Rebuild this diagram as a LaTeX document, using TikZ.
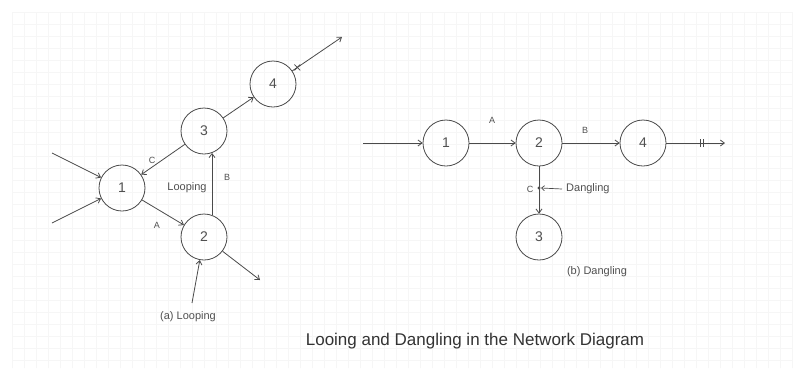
\documentclass[tikz,border=0pt]{standalone}
\usepackage{fontspec}
\setmainfont{Liberation Sans}
\usetikzlibrary{arrows.meta,shapes.misc}
\definecolor{ln}{HTML}{4A4A4A}
\definecolor{tx}{HTML}{505050}
\tikzset{
  x=1pt,y=-1pt,
  vnode/.style={circle,draw=ln,line width=0.8pt,minimum size=46pt,inner sep=0pt,font=\fontsize{14}{14}\selectfont,text=tx},
  conn/.style={draw=ln,line width=0.8pt,-{Straight Barb[length=4pt,width=6pt]}},
  lab/.style={font=\fontsize{9}{9}\selectfont,text=tx,inner sep=0pt},
  captext/.style={font=\fontsize{11}{11}\selectfont,text=tx,inner sep=0pt},
  xmark/.style={cross out,draw=ln,line width=0.8pt,minimum size=5pt,inner sep=0pt},
}
\begin{document}
\begin{tikzpicture}
\useasboundingbox (0,0) rectangle (801,376);
\fill[white] (0,0) rectangle (801,376);
\draw[gray!7,line width=0.4pt,step=12pt] (12,12) grid (792,368);
% ---------- (a) Looping ----------
\node[vnode] (n1) at (122,188) {1};
\node[vnode] (n3) at (204,131) {3};
\node[vnode] (n4) at (273,84) {4};
\node[vnode] (n2) at (204,237) {2};
\coordinate (a1) at (52,153);
\coordinate (a2) at (52,223);
\coordinate (a3) at (192,303);
\coordinate (o2) at (260,280);
\coordinate (o4) at (342,37);
\draw[conn] (a1) -- (n1);
\draw[conn] (a2) -- (n1);
\draw[conn] (n1) -- (n2);
\draw[conn] (n3) -- (n1);
\draw[conn] (n2.70) -- (n3.290);
\draw[conn] (n3) -- (n4);
\draw[conn] (n4) -- node[xmark,pos=0.1] (x4) {} (o4);
\draw[conn] (n2) -- (o2);
\draw[conn] (a3) -- (n2);
\node[lab] (lA) at (157,225) {A};
\node[lab] (lC) at (152,160) {C};
\node[lab] (lB) at (227,177) {B};
\node[captext] (lp) at (187,188) {Looping};
\node[captext] (capa) at (188,317) {(a) Looping};
% ---------- (b) Dangling ----------
\node[vnode] (m1) at (446,143) {1};
\node[vnode] (m2) at (539,143) {2};
\node[vnode] (m4) at (643,143) {4};
\node[vnode] (m3) at (539,237) {3};
\coordinate (b1) at (363,143);
\coordinate (q4) at (725,143);
\draw[conn] (b1) -- (m1);
\draw[conn] (m1) -- (m2);
\draw[conn] (m2) -- (m4);
\draw[conn] (m4) -- (q4);
\coordinate (bar) at (702,143);
\draw[ln,line width=0.8pt] ([xshift=-1.2pt,yshift=-4pt]bar) -- ([xshift=-1.2pt,yshift=4pt]bar)
  ([xshift=1.2pt,yshift=-4pt]bar) -- ([xshift=1.2pt,yshift=4pt]bar);
\draw[conn] (m2) -- (m3);
\coordinate (dp) at (539,188);
\fill[ln] (dp) circle (1.6pt);
\node[captext,anchor=west] (dt) at (566,189) {Dangling};
\draw[draw=ln,line width=0.7pt,-{Straight Barb[length=3pt,width=5pt]}] ([xshift=-4pt]dt.west) -- ([xshift=2pt]dp);
\node[lab] (lA2) at (492,120) {A};
\node[lab] (lB2) at (585,130) {B};
\node[lab] (lC2) at (530,189) {C};
\node[captext] (capb) at (597,272) {(b) Dangling};
% ---------- title ----------
\node[font=\fontsize{17}{17}\selectfont,text=black!80] (title) at (475,341) {Looing and Dangling in the Network Diagram};
\end{tikzpicture}
\end{document}
